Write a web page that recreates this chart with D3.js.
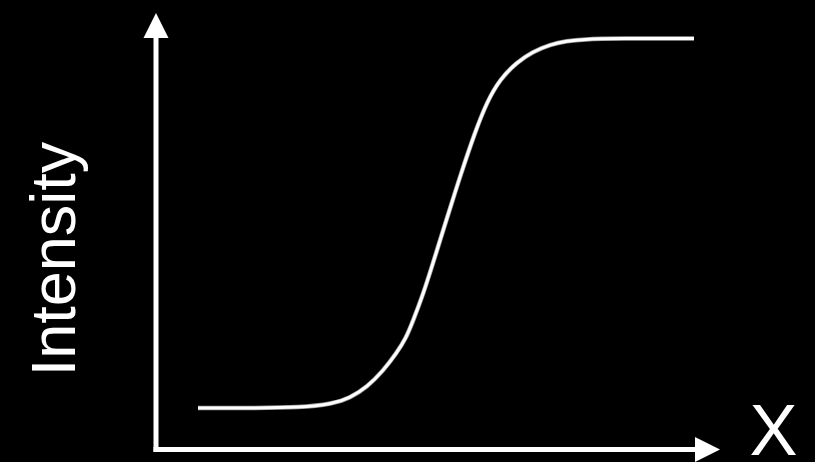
<!DOCTYPE html>
<html><head><meta charset="utf-8">
<script src="https://cdn.jsdelivr.net/npm/d3@7"></script>
<style>html,body{margin:0;padding:0;background:#000;}svg{display:block;}</style>
</head><body>
<script>
// Data (x in 0..100 units, intensity normalised 0..1)
const xValues = [0, 10.5, 20.6, 27.2, 30.6, 34.1, 37.3, 40.1, 41.9, 43.3, 45.4, 47.4, 49.4, 51.4, 52.8, 55.8, 58.3, 60.9, 64.3, 67.5, 71.0, 74.4, 77.6, 84.5, 100];
const intensity = [0, 0, 0.001, 0.011, 0.027, 0.057, 0.100, 0.150, 0.188, 0.234, 0.308, 0.393, 0.480, 0.565, 0.625, 0.745, 0.830, 0.890, 0.936, 0.964, 0.984, 0.993, 0.998, 1, 1];
const xLabel = "X";
const yLabel = "Intensity";

const W = 815, H = 462;
const svg = d3.select("body").append("svg").attr("width", W).attr("height", H);
svg.append("rect").attr("width", W).attr("height", H).attr("fill", "#000");

const x = d3.scaleLinear().domain([0, 100]).range([198, 694]);
const y = d3.scaleLinear().domain([0, 1]).range([408, 38.5]);

// Axes (arrows)
const axisX = 156, axisY = 449.5;
svg.append("line").attr("x1", axisX).attr("x2", axisX).attr("y1", axisY + 2.5).attr("y2", 34)
  .attr("stroke", "#fff").attr("stroke-width", 5);
svg.append("path").attr("d", `M${axisX},13 L${axisX + 12.5},38 L${axisX - 12.5},38 Z`).attr("fill", "#fff");
svg.append("line").attr("x1", axisX - 2.5).attr("x2", 698).attr("y1", axisY).attr("y2", axisY)
  .attr("stroke", "#fff").attr("stroke-width", 5);
svg.append("path").attr("d", `M720,${axisY} L695,${axisY - 12.5} L695,${axisY + 12.5} Z`).attr("fill", "#fff");

// Curve
const pts = xValues.map((v, i) => [v, intensity[i]]);
const lineGen = d3.line().x(d => x(d[0])).y(d => y(d[1])).curve(d3.curveBasis);
svg.append("path").datum(pts).attr("d", lineGen)
  .attr("fill", "none").attr("stroke", "#9a9a9a").attr("stroke-width", 4.5);
svg.append("path").datum(pts).attr("d", lineGen)
  .attr("fill", "none").attr("stroke", "#fff").attr("stroke-width", 3);

// Labels
svg.append("text").attr("x", 773.5).attr("y", 455).attr("text-anchor", "middle")
  .attr("font-family", "Liberation Sans, Arial, Helvetica, sans-serif").attr("font-size", 72)
  .attr("fill", "#fff").text(xLabel);
svg.append("text").attr("transform", "translate(75,259) rotate(-90)").attr("text-anchor", "middle")
  .attr("font-family", "Liberation Sans, Arial, Helvetica, sans-serif").attr("font-size", 63)
  .attr("fill", "#fff").text(yLabel);
</script>
</body></html>
